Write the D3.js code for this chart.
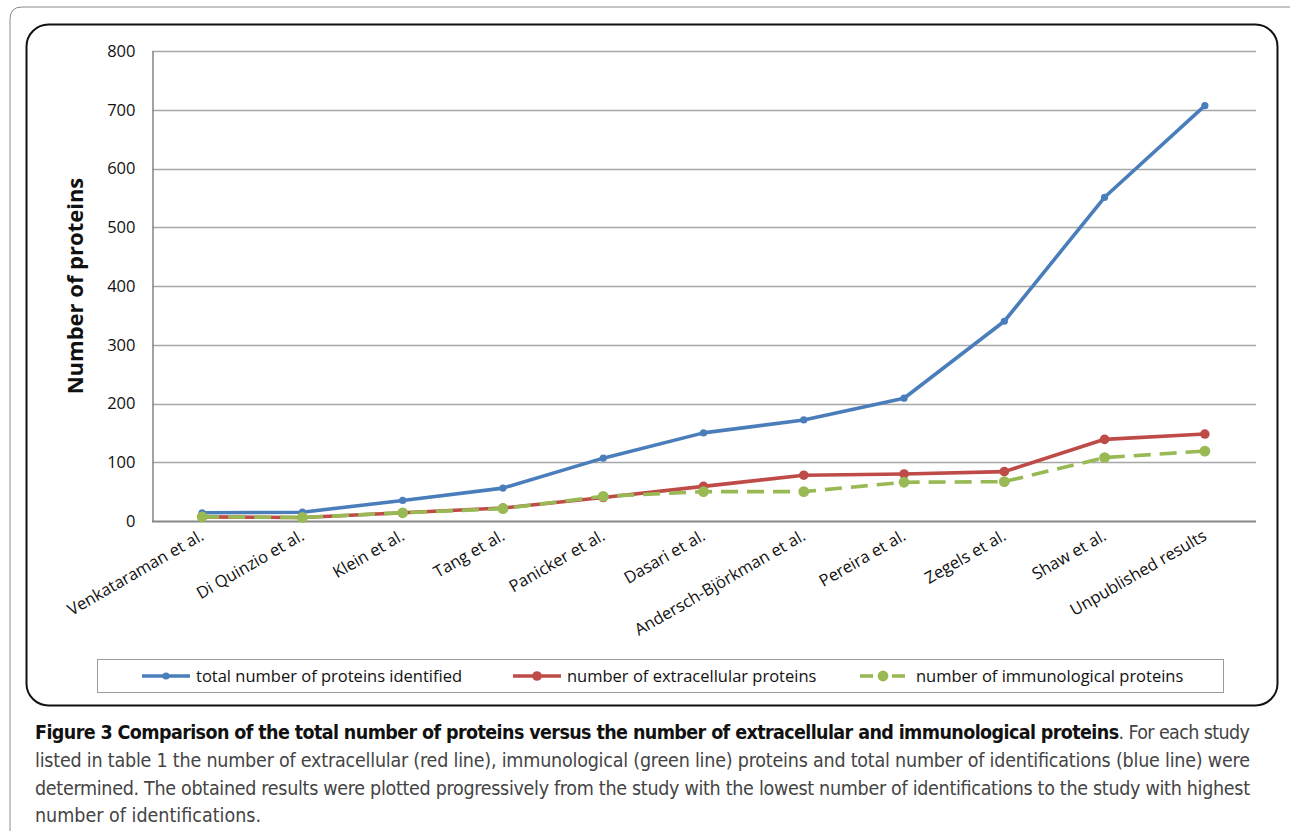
<!DOCTYPE html>
<html>
<head>
<meta charset="utf-8">
<script src="https://cdn.jsdelivr.net/npm/d3@7/dist/d3.min.js"></script>
<style>
  html, body { margin: 0; padding: 0; background: #fff; }
  svg { display: block; }
</style>
</head>
<body>
<svg id="fig" width="1290" height="831"></svg>
<script>
// Studies, ordered by total number of identifications
const studies = [
  "Venkataraman et al.", "Di Quinzio et al.", "Klein et al.", "Tang et al.",
  "Panicker et al.", "Dasari et al.", "Andersch-Björkman et al.", "Pereira et al.",
  "Zegels et al.", "Shaw et al.", "Unpublished results"
];
const totalProteins         = [14, 15, 35, 56, 107, 150, 172, 209, 340, 551, 707];
const extracellularProteins = [7, 6, 14, 22, 40, 59, 78, 80, 84, 139, 148];
const immunologicalProteins = [7, 6, 14, 21, 42, 50, 50, 66, 67, 108, 119];
const yTicks = [0, 100, 200, 300, 400, 500, 600, 700, 800];

const seriesNames = [
  "total number of proteins identified",
  "number of extracellular proteins",
  "number of immunological proteins"
];

const captionBold = "Figure 3 Comparison of the total number of proteins versus the number of extracellular and immunological proteins";
const captionLines = [
  ". For each study",
  "listed in table 1 the number of extracellular (red line), immunological (green line) proteins and total number of identifications (blue line) were",
  "determined. The obtained results were plotted progressively from the study with the lowest number of identifications to the study with highest",
  "number of identifications."
];

const series = [
  { name: seriesNames[0], values: totalProteins, color: "#4a7ebb", r: 3.6, dash: null },
  { name: seriesNames[1], values: extracellularProteins, color: "#be4b48", r: 4.8, dash: null },
  { name: seriesNames[2], values: immunologicalProteins, color: "#98b954", r: 5.4, dash: "17,9" }
];

const svg = d3.select("#fig");
const chartFont = "'Open Sans', 'Noto Sans', sans-serif";
const captionFont = "'Liberation Sans Narrow', 'DejaVu Sans Condensed', 'Open Sans', sans-serif";

// Frames
svg.append("path")
  .attr("d", "M10,831 L10,19 Q10,7 22,7 L1300,7")
  .attr("fill", "none").attr("stroke", "#8a8a8a").attr("stroke-width", 1);
svg.append("rect")
  .attr("x", 26.5).attr("y", 24.5).attr("width", 1251).attr("height", 681)
  .attr("rx", 22).attr("ry", 22)
  .attr("fill", "none").attr("stroke", "#111").attr("stroke-width", 2);

// Scales
const x = d3.scaleBand().domain(studies).range([152, 1255]).paddingInner(0).paddingOuter(0);
const cx = d => x(d) + x.bandwidth() / 2;
const y = d3.scaleLinear().domain([0, 800]).range([521, 51]);

// Gridlines
svg.append("g").selectAll("line").data(yTicks.filter(t => t > 0)).join("line")
  .attr("x1", 152).attr("x2", 1256)
  .attr("y1", d => Math.round(y(d)) + 0.5).attr("y2", d => Math.round(y(d)) + 0.5)
  .attr("stroke", "#a6a6a6").attr("stroke-width", 1.6);

// Y axis
const yAxis = svg.append("g").attr("transform", "translate(152.5,0)")
  .call(d3.axisLeft(y).tickValues(yTicks).tickSize(0).tickPadding(17));
yAxis.select(".domain").attr("stroke", "#8c8c8c").attr("stroke-width", 1.6);
yAxis.selectAll("text").attr("font-family", chartFont).attr("font-size", 16.5).attr("fill", "#111");

// X axis line
svg.append("line").attr("x1", 152).attr("x2", 1256).attr("y1", y(0) + 0.5).attr("y2", y(0) + 0.5)
  .attr("stroke", "#878787").attr("stroke-width", 2.2);

// X category labels, rotated
svg.append("g").selectAll("text").data(studies).join("text")
  .attr("transform", d => `translate(${cx(d) + 3},${539}) rotate(-30)`)
  .attr("text-anchor", "end")
  .attr("font-family", chartFont).attr("font-size", 16.5).attr("fill", "#111")
  .text(d => d);

// Y axis title
svg.append("text")
  .attr("transform", "translate(83,286) rotate(-90)")
  .attr("text-anchor", "middle")
  .attr("font-family", chartFont).attr("font-size", 22).attr("font-weight", "bold").attr("fill", "#111")
  .text("Number of proteins");

// Lines and markers
const line = d3.line().x((v, i) => cx(studies[i])).y(v => y(v));
series.forEach(s => {
  const g = svg.append("g");
  g.append("path").datum(s.values)
    .attr("d", line).attr("fill", "none")
    .attr("stroke", s.color).attr("stroke-width", 3.6)
    .attr("stroke-linejoin", "round")
    .attr("stroke-dasharray", s.dash);
  g.selectAll("circle").data(s.values).join("circle")
    .attr("cx", (v, i) => cx(studies[i])).attr("cy", v => y(v))
    .attr("r", s.r).attr("fill", s.color);
});

// Legend
const legend = svg.append("g");
legend.append("rect").attr("x", 97.5).attr("y", 659.5).attr("width", 1126).attr("height", 33)
  .attr("fill", "#fff").attr("stroke", "#9a9a9a").attr("stroke-width", 1);
const legendX = [142, 513, 860];
series.forEach((s, i) => {
  const lx = legendX[i], ly = 676;
  if (s.dash) {
    legend.append("line").attr("x1", lx).attr("x2", lx + 13).attr("y1", ly).attr("y2", ly)
      .attr("stroke", s.color).attr("stroke-width", 3.6);
    legend.append("line").attr("x1", lx + 32).attr("x2", lx + 45).attr("y1", ly).attr("y2", ly)
      .attr("stroke", s.color).attr("stroke-width", 3.6);
    legend.append("circle").attr("cx", lx + 23).attr("cy", ly).attr("r", s.r).attr("fill", s.color);
  } else {
    legend.append("line").attr("x1", lx).attr("x2", lx + 48).attr("y1", ly).attr("y2", ly)
      .attr("stroke", s.color).attr("stroke-width", 3.6);
    legend.append("circle").attr("cx", lx + 24).attr("cy", ly).attr("r", s.r).attr("fill", s.color);
  }
  legend.append("text").attr("x", i === 2 ? lx + 56 : lx + 54).attr("y", ly + 6)
    .attr("font-family", chartFont).attr("font-size", 16.5).attr("fill", "#111")
    .text(s.name);
});

// Caption
const cap = svg.append("g").attr("font-family", captionFont).attr("font-size", 19.5).attr("fill", "#222");
const first = cap.append("text").attr("x", 35).attr("y", 739)
  .attr("textLength", 1215).attr("lengthAdjust", "spacing");
first.append("tspan").attr("font-weight", "bold").attr("fill", "#111").text(captionBold);
first.append("tspan").attr("fill", "#444").text(captionLines[0]);
[1, 2, 3].forEach((k, j) => {
  const t = cap.append("text").attr("x", 35).attr("y", 767 + j * 27.5).attr("fill", "#444").text(captionLines[k]);
  if (k < 3) t.attr("textLength", 1215).attr("lengthAdjust", "spacing");
});
</script>
</body>
</html>
